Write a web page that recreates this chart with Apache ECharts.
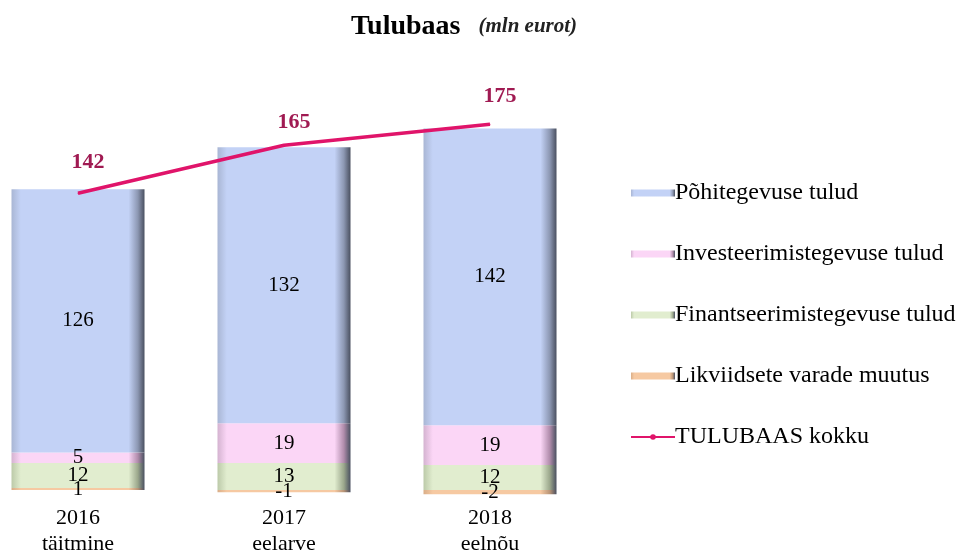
<!DOCTYPE html>
<html>
<head>
<meta charset="utf-8">
<script src="https://cdn.jsdelivr.net/npm/echarts@6/dist/echarts.min.js"></script>
<style>
  html, body { margin: 0; padding: 0; background: #fff; }
  #chart { width: 962px; height: 552px; }
</style>
</head>
<body>
<div id="chart"></div>
<script>
// andmed (mln eurot)
var categories = ['2016\ntäitmine', '2017\neelarve', '2018\neelnõu'];
var pohitegevus = [126, 132, 142];
var investeerimine = [5, 19, 19];
var finantseerimine = [12, 13, 12];
var likviidsed = [1, -1, -2];
var kokku = [142, 165, 175];
// kui kõrgel joone kohal summa silt on (px)
var kokkuSildiVahe = [20, 11, 17];

var serif = '"Liberation Serif", "DejaVu Serif", serif';

// bevel-like fill for the bars
function bevel(light, base, dark) {
    return new echarts.graphic.LinearGradient(0, 0, 1, 0, [
        { offset: 0, color: light },
        { offset: 0.07, color: base },
        { offset: 0.88, color: base },
        { offset: 0.95, color: dark },
        { offset: 1, color: '#4a5060' }
    ]);
}

function barSeries(name, data, fill) {
    return {
        name: name,
        type: 'bar',
        stack: 'tulud',
        barWidth: 133,
        data: data,
        itemStyle: { color: fill },
        label: {
            show: true,
            position: 'inside',
            color: '#000',
            fontFamily: serif,
            fontSize: 21
        }
    };
}

var kokkuData = kokku.map(function (v, i) {
    return { value: v, label: { distance: kokkuSildiVahe[i] } };
});

var myChart = echarts.init(document.getElementById('chart'));
myChart.setOption({
    animation: false,
    title: {
        text: '{b|Tulubaas}{i|(mln eurot)}',
        left: 346,
        top: 8,
        textStyle: {
            rich: {
                b: { fontFamily: serif, fontSize: 28, fontWeight: 'bold', color: '#000' },
                i: { fontFamily: serif, fontSize: 21, fontStyle: 'italic', color: '#222', padding: [0, 0, 0, 18] }
            }
        }
    },
    legend: {
        orient: 'vertical',
        left: 625,
        top: 176,
        itemWidth: 44,
        itemHeight: 7,
        itemGap: 37,
        textStyle: { fontFamily: serif, fontSize: 24, color: '#000', padding: [0, 0, 0, -5] },
        data: [
            { name: 'Põhitegevuse tulud', icon: 'rect' },
            { name: 'Investeerimistegevuse tulud', icon: 'rect' },
            { name: 'Finantseerimistegevuse tulud', icon: 'rect' },
            { name: 'Likviidsete varade muutus', icon: 'rect' },
            { name: 'TULUBAAS kokku' }
        ]
    },
    grid: {
        left: -25,
        right: 369,
        top: 93,
        bottom: 41,
        outerBoundsMode: 'none',
        containLabel: false
    },
    xAxis: {
        type: 'category',
        data: categories,
        axisLine: { show: false },
        axisTick: { show: false },
        axisLabel: {
            margin: -6,
            color: '#000',
            fontFamily: serif,
            fontSize: 22,
            lineHeight: 26
        }
    },
    yAxis: {
        type: 'value',
        min: -10,
        max: 190,
        show: false,
        splitLine: { show: false }
    },
    series: [
        barSeries('Likviidsete varade muutus', likviidsed, bevel('#d9ae88', '#f6c9a2', '#b89476')),
        barSeries('Finantseerimistegevuse tulud', finantseerimine, bevel('#bccaa9', '#e1edcf', '#9ba78c')),
        barSeries('Investeerimistegevuse tulud', investeerimine, bevel('#d4b3d0', '#fbd6f6', '#b08cab')),
        barSeries('Põhitegevuse tulud', pohitegevus, bevel('#a9b6d4', '#c3d2f6', '#8c97b2')),
        {
            name: 'TULUBAAS kokku',
            type: 'line',
            data: kokkuData,
            symbol: 'circle',
            symbolSize: 1,
            lineStyle: { color: '#e0146a', width: 3.5 },
            itemStyle: { color: '#e0146a' },
            label: {
                show: true,
                position: 'top',
                offset: [10, 0],
                color: '#a01a52',
                fontFamily: serif,
                fontSize: 22,
                fontWeight: 'bold'
            },
            z: 5
        }
    ]
});
</script>
</body>
</html>
